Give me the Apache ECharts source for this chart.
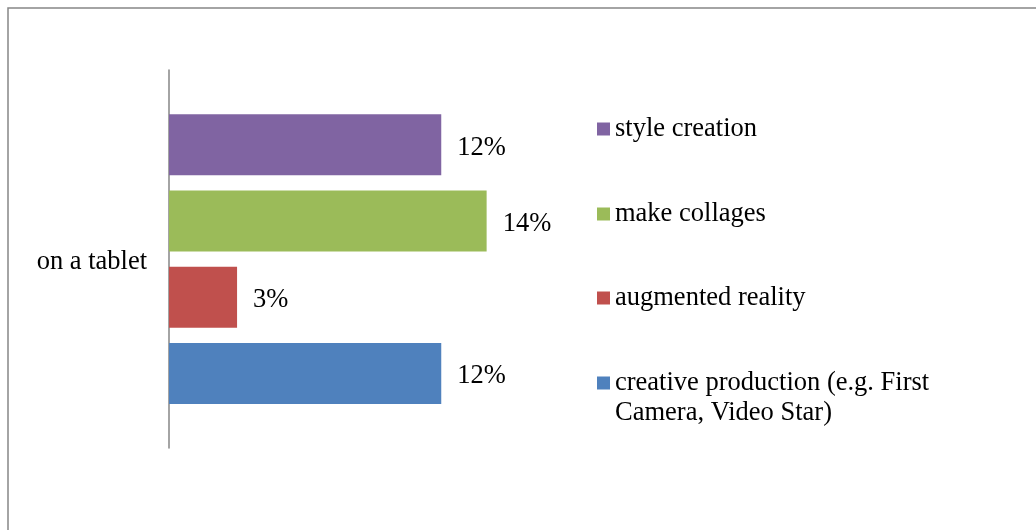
<!DOCTYPE html>
<html>
<head>
<meta charset="utf-8">
<script src="https://cdn.jsdelivr.net/npm/echarts@6/dist/echarts.min.js"></script>
<style>
  html, body { margin: 0; padding: 0; background: #fff; }
  #chart { width: 1036px; height: 530px; }
</style>
</head>
<body>
<div id="chart"></div>
<script>
// Share of activities done on a tablet (percent)
const categories = ['on a tablet'];
const seriesNames = [
  'style creation',
  'make collages',
  'augmented reality',
  'creative production (e.g. First\nCamera, Video Star)'
];
const styleCreation = [12];
const makeCollages = [14];
const augmentedReality = [3];
const creativeProduction = [12];

const seriesValues = [styleCreation, makeCollages, augmentedReality, creativeProduction];
const colors = ['#8064A2', '#9BBB59', '#C0504D', '#4F81BD'];
const FONT = "'Liberation Serif', 'Times New Roman', serif";
const FONT_SIZE = 26.5;

const chart = echarts.init(document.getElementById('chart'));

// One legend per series so each entry can sit beside its own row;
// the two-line entry gets a blank leading line so its marker lines up with the first text line.
const legendTops = [114, 199, 283, 338];
const legends = seriesNames.map((name, i) => ({
  data: [name],
  left: 597,
  top: legendTops[i],
  orient: 'vertical',
  padding: 0,
  icon: 'rect',
  itemWidth: 13,
  itemHeight: 13,
  selectedMode: false,
  formatter: n => (n.indexOf('\n') >= 0 ? ' \n' + n : n),
  textStyle: {
    fontFamily: FONT,
    fontSize: FONT_SIZE,
    color: '#000',
    lineHeight: 30
  }
}));

chart.setOption({
  animation: false,
  backgroundColor: '#fff',
  color: colors,
  legend: legends,
  grid: { left: 169, top: 70, height: 378, right: 504 },
  xAxis: {
    type: 'value',
    min: 0,
    max: 16,
    show: false
  },
  yAxis: {
    type: 'category',
    data: categories,
    axisLine: { show: true, lineStyle: { color: '#868686', width: 1.5 } },
    axisTick: { show: false },
    splitLine: { show: false },
    axisLabel: {
      margin: 22,
      formatter: '{a|{value}}',
      rich: {
        a: {
          padding: [6, 0, 0, 0],
          fontFamily: FONT,
          fontSize: FONT_SIZE,
          color: '#000'
        }
      }
    }
  },
  series: seriesNames.map((name, i) => ({
    name: name,
    type: 'bar',
    data: seriesValues[i],
    barWidth: 61,
    barGap: '25%',
    itemStyle: { color: colors[i] },
    label: {
      show: true,
      position: 'right',
      distance: 16,
      offset: [0, 3],
      formatter: '{c}%',
      fontFamily: FONT,
      fontSize: FONT_SIZE,
      color: '#000'
    }
  })),
  graphic: [{
    type: 'rect',
    shape: { x: 8, y: 8, width: 1060, height: 560 },
    style: { fill: 'none', stroke: '#868686', lineWidth: 1.5 },
    silent: true
  }]
});
</script>
</body>
</html>
